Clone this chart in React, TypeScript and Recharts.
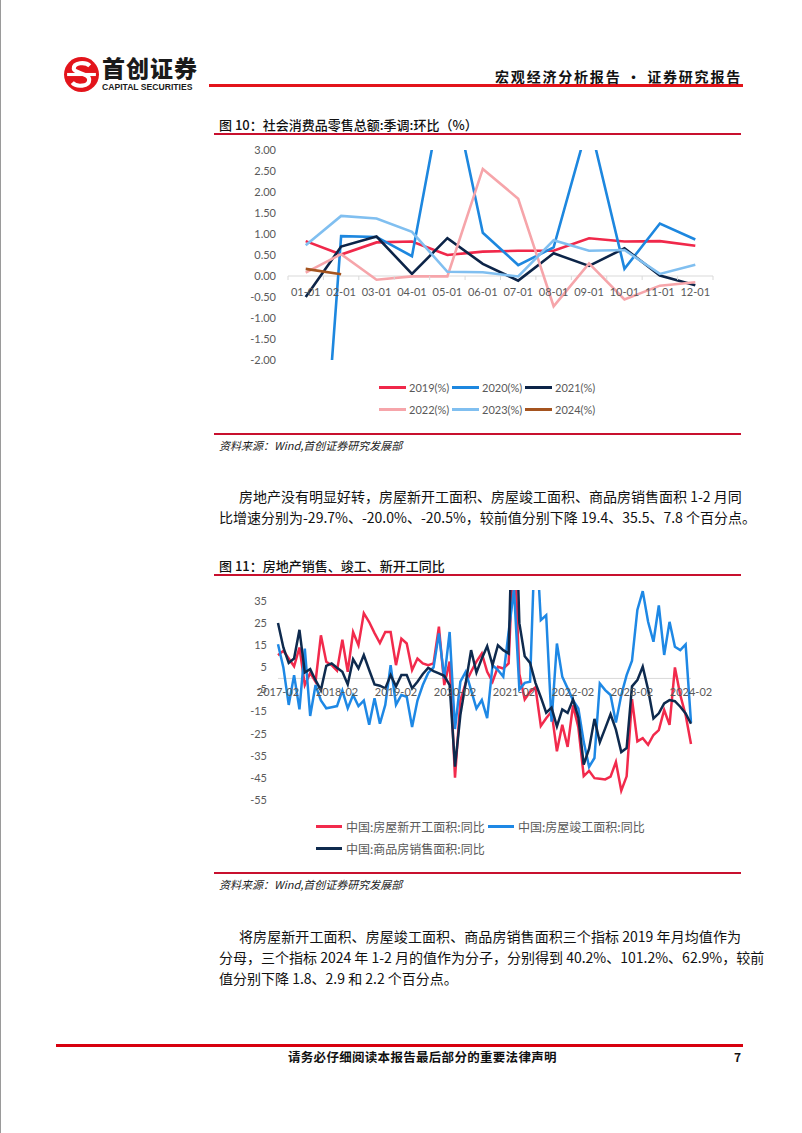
import { LineChart, Line, XAxis, YAxis, ReferenceLine, Legend } from 'recharts';

// 图10 社会消费品零售总额:季调:环比(%)
const retailMonths = ['01-01', '02-01', '03-01', '04-01', '05-01', '06-01', '07-01', '08-01', '09-01', '10-01', '11-01', '12-01'];
const retail2019 = [0.83, 0.51, 0.8, 0.82, 0.5, 0.58, 0.6, 0.6, 0.9, 0.82, 0.83, 0.72];
const retail2020 = [-10.5, 0.95, 0.93, 0.47, 5.0, 1.03, 0.26, 0.68, 3.7, 0.17, 1.25, 0.87];
const retail2021 = [-0.5, 0.7, 0.94, 0.05, 0.9, 0.29, -0.11, 0.54, 0.24, 0.66, 0.01, -0.22];
const retail2022 = [0.08, 0.52, -0.09, -0.01, -0.01, 2.55, 1.84, -0.72, 0.3, -0.56, -0.23, -0.15];
const retail2023 = [0.73, 1.43, 1.37, 1.05, 0.1, 0.09, -0.01, 0.85, 0.6, 0.62, 0.05, 0.27];
const retail2024 = [0.17, 0.04];
const retailTicks = [-2, -1.5, -1, -0.5, 0, 0.5, 1, 1.5, 2, 2.5, 3];

// 图11 房地产销售、竣工、新开工同比 (1月并入2月)
const propYears = ['2017', '2018', '2019', '2020', '2021', '2022', '2023', '2024'];
const propMonths = ['02', '03', '04', '05', '06', '07', '08', '09', '10', '11', '12'];
const newStartsYoY = [
  10.5, 12.5, 9, 5.5, 14, -3, 2.5, -1.5, 19.5, 7.5, 6,
  3.5, 17.5, 3, 21, 15, 29.5, 25.5, 20.5, 16, 21, 21,
  6, 18, 15.8, 3.8, 9, 6.8, 6, 6.8, 23.4, -3, 7.6,
  -44.9, -10, -2, 3, 7.6, 11.3, 3, -1.5, 5.3, 4.5, 6.8,
  64.3, 2, -9.5, -6, -4, -21.5, -18, -15, -33, -21, -31,
  -12.2, -22.2, -44.2, -41.8, -45.1, -45.4, -45.7, -44.4, -37.8, -50.8, -44.3,
  -9.4, -28.5, -27, -30, -25.6, -23.4, -14.3, -21, 5, -7.5, -16.6,
  -29.7,
];
const completedYoY = [
  15.5, 5, -12, 1.5, -14, 13.5, -17, -3, -10, -13.5, -13,
  -12.5, -5.5, -13.5, -7.5, -12.5, -10, -21, -9, -20.5, -12, 6,
  -11.9, -7.5, -8.3, -22, -10, -3, 2.5, 5, 20.4, 0, 21,
  -22.9, -1.5, 3, -5.3, -13.6, -9.8, -18, 6, 3.8, 0.8, 21,
  40.4, -5, -2, -1.5, 70, 26.4, 28.6, -19.6, 15.8, 0.8, -4.5,
  -9.8, -13.6, -28.7, -40, -36, -2.3, -5.3, -7.5, -20, -7.5, 1.5,
  8, 31, 39.5, 25.6, 16.6, 33, 10.6, 25.6, 14.3, 12.8, 15.4,
  -20,
];
const salesYoY = [
  25.1, 14, 7, 9, 22, 2.7, 4.2, -0.8, -5.3, 5.7, 6.8,
  4.8, 3, -2.7, 8.7, 4.5, 10.6, 3.8, -2.7, -3.3, -4.5, 1.5,
  -3.6, 1.5, 1.5, -4.5, -1.5, 2, 4.8, 3.3, 2.3, 1.2, -3,
  -39.9, -16.6, -2, 12.8, 2.7, 9, 14.6, 6, 15, 12.8, 11.3,
  104.9, 25, 10, 7, -2, -8.5, -15.5, -13.2, -21.7, -14, -15.6,
  -9.6, -17.7, -39, -31.8, -18.3, -28.9, -22.6, -16.2, -23.2, -33.3, -31.5,
  -3.6, -0.8, 5.3, -5, -18.1, -15.8, -11.3, -9.8, -10.3, -12.8, -15.8,
  -20.5,
];
const propTicks = [-55, -45, -35, -25, -15, -5, 5, 15, 25, 35];

const CJK = "'Noto Sans CJK SC', 'Noto Sans', sans-serif";
const LAT = "Lato, 'Noto Sans', sans-serif";
const AXIS_GREY = '#595959';

const retailSeries = [
  { key: 'y2019', name: '2019(%)', color: '#f0284a' },
  { key: 'y2020', name: '2020(%)', color: '#1d87df' },
  { key: 'y2021', name: '2021(%)', color: '#0c2448' },
  { key: 'y2022', name: '2022(%)', color: '#f6a5aa' },
  { key: 'y2023', name: '2023(%)', color: '#80bff0' },
  { key: 'y2024', name: '2024(%)', color: '#a5541f' },
];
const retailData = retailMonths.map((m, i) => ({
  month: m,
  y2019: retail2019[i],
  y2020: retail2020[i],
  y2021: retail2021[i],
  y2022: retail2022[i],
  y2023: retail2023[i],
  y2024: retail2024[i],
}));

const propSeries = [
  { key: 'newStarts', name: '中国:房屋新开工面积:同比', color: '#f22a4c' },
  { key: 'completed', name: '中国:房屋竣工面积:同比', color: '#1e88e5' },
  { key: 'sales', name: '中国:商品房销售面积:同比', color: '#0e2a4e' },
];
const propDates = propYears.flatMap((y) => propMonths.map((m) => `${y}-${m}`)).slice(0, newStartsYoY.length);
const propData = propDates.map((d, i) => ({
  date: d,
  newStarts: newStartsYoY[i],
  completed: completedYoY[i],
  sales: salesYoY[i],
}));

// chart 1 geometry
const R_W = 520;
const R_H = 300;
const R_XH = 1;
const R_MARGIN = { top: 10, right: 21, bottom: 79, left: 0 };
const R_YW = 74;
const R_PLOT_H = R_H - R_MARGIN.top - R_MARGIN.bottom - R_XH;
const R_PLOT_W = R_W - R_MARGIN.right - R_YW;
const R_BAND = R_PLOT_W / retailMonths.length;
const R_ZERO = R_MARGIN.top + (R_PLOT_H * 3) / 5;

// chart 2 geometry
const P_W = 520;
const P_H = 300;
const P_XH = 1;
const P_MARGIN = { top: 10, right: 43, bottom: 79, left: 0 };
const P_YW = 64;
const P_PLOT_H = P_H - P_MARGIN.top - P_MARGIN.bottom - P_XH;
const P_ZERO = P_MARGIN.top + (P_PLOT_H * 40) / 95;

const renderRetailTick = (props: any) => {
  const { x, payload, index } = props;
  const last = index === retailMonths.length - 1;
  return (
    <g key={`rt-${index}`}>
      <line x1={x - R_BAND / 2} x2={x - R_BAND / 2} y1={R_ZERO} y2={R_ZERO + 4} stroke="#d9d9d9" />
      {last && <line x1={x + R_BAND / 2} x2={x + R_BAND / 2} y1={R_ZERO} y2={R_ZERO + 4} stroke="#d9d9d9" />}
      <text x={x} y={R_ZERO + 20} textAnchor="middle" fill={AXIS_GREY} fontSize={11} fontFamily={LAT}>
        {payload.value}
      </text>
    </g>
  );
};

const renderPropTick = (props: any) => {
  const { x, payload, index } = props;
  return (
    <text key={`pt-${index}`} x={x} y={P_ZERO + 17.5} textAnchor="middle" fill={AXIS_GREY} fontSize={11} fontFamily={LAT}>
      {payload.value}
    </text>
  );
};

const RetailLegend = () => (
  <div style={{ paddingLeft: 165, width: 225, fontFamily: LAT, fontSize: 11, color: AXIS_GREY }}>
    {retailSeries.map((s) => (
      <span key={s.key} style={{ display: 'inline-flex', alignItems: 'center', width: 73, height: 22, verticalAlign: 'top' }}>
        <span style={{ display: 'inline-block', width: 27, height: 3, background: s.color, marginRight: 3 }} />
        {s.name}
      </span>
    ))}
  </div>
);

const PropLegend = () => (
  <div style={{ paddingLeft: 102, width: 350, fontFamily: CJK, fontSize: 12, color: AXIS_GREY }}>
    {propSeries.map((s) => (
      <span key={s.key} style={{ display: 'inline-flex', alignItems: 'center', width: 172, height: 22, verticalAlign: 'top' }}>
        <span style={{ display: 'inline-block', width: 26, height: 3, background: s.color, marginRight: 4 }} />
        {s.name}
      </span>
    ))}
  </div>
);

const abs = (left: number, top: number, extra: any = {}) => ({ position: 'absolute' as const, left, top, ...extra });

const Rule = ({ left, top, width, h = 1, color = '#c8102e' }: any) => (
  <div style={abs(left, top, { width, height: h, background: color })} />
);

const TextLine = ({ left, top, width, children, justify = true }: any) => (
  <div
    style={abs(left, top, {
      width,
      height: 21,
      lineHeight: '21px',
      fontFamily: CJK,
      fontSize: 14,
      color: '#111',
      whiteSpace: 'nowrap',
      textAlign: justify ? 'justify' : 'left',
      textAlignLast: justify ? 'justify' : 'left',
    })}
  >
    {children}
  </div>
);

export default function App() {
  return (
    <div style={{ position: 'absolute', left: 0, top: 0, width: 802, height: 1133, background: '#fff', overflow: 'hidden', borderLeft: '1px solid #9a9a9a', boxSizing: 'border-box' }}>
      {/* header */}
      <svg style={abs(62, 56)} width={37} height={37} viewBox="0 0 36 36">
        <circle cx={18} cy={18} r={17} fill="#e3141b" />
        <path d="M26 9.5 C22 5.5 10 6 10.5 12.5 C11 17 25.5 16.5 25.5 23 C25.5 30 13 30.5 9 26" stroke="#fff" strokeWidth={4} fill="none" />
        <rect x={4} y={16.5} width={28} height={3} fill="#fff" />
      </svg>
      <div style={abs(101, 54, { fontFamily: CJK, fontSize: 23, fontWeight: 900, color: '#1a1a1a', letterSpacing: 1, lineHeight: '26px' })}>首创证券</div>
      <div style={abs(101, 82, { fontFamily: "'Liberation Sans', Arial, sans-serif", fontSize: 8.6, fontWeight: 700, color: '#1a1a1a', lineHeight: '10px' })}>CAPITAL SECURITIES</div>
      <Rule left={208} top={84} width={534} h={3} color="#e3141b" />
      <div style={abs(400, 66, { width: 341, textAlign: 'right', fontFamily: CJK, fontSize: 14, fontWeight: 700, color: '#111', lineHeight: '20px', letterSpacing: 1.8 })}>
        宏观经济分析报告 · 证券研究报告
      </div>

      {/* figure 10 */}
      <div style={abs(218, 116, { fontFamily: CJK, fontSize: 13, fontWeight: 500, color: '#111', lineHeight: '18px' })}>图 10：社会消费品零售总额:季调:环比（%）</div>
      <Rule left={213} top={133} width={527} h={1.5} />
      <div style={abs(213, 140)}>
        <LineChart width={R_W} height={R_H} data={retailData} margin={R_MARGIN}>
          <XAxis
            dataKey="month"
            height={R_XH}
            axisLine={false}
            tickLine={false}
            interval={0}
            padding={{ left: R_BAND / 2, right: R_BAND / 2 }}
            tick={renderRetailTick}
          />
          <YAxis
            width={R_YW}
            domain={[-2, 3]}
            ticks={retailTicks}
            allowDataOverflow
            axisLine={false}
            tickLine={false}
            tickSize={6}
            tickMargin={6}
            tickFormatter={(v: number) => v.toFixed(2)}
            tick={{ fill: AXIS_GREY, fontSize: 11, fontFamily: LAT }}
          />
          <ReferenceLine y={0} stroke="#d9d9d9" strokeWidth={1} />
          {retailSeries.map((s) => (
            <Line
              key={s.key}
              type="linear"
              dataKey={s.key}
              name={s.name}
              stroke={s.color}
              strokeWidth={2.6}
              dot={false}
              activeDot={false}
              isAnimationActive={false}
            />
          ))}
          <Legend
            layout="horizontal"
            verticalAlign="middle"
            align="center"
            wrapperStyle={{ left: 0, top: 236, width: R_W }}
            content={<RetailLegend />}
          />
        </LineChart>
      </div>
      <Rule left={213} top={433} width={527} h={1.5} />
      <div style={abs(218, 437, { fontFamily: CJK, fontSize: 11, fontStyle: 'italic', color: '#222', lineHeight: '16px' })}>资料来源：Wind,首创证券研究发展部</div>

      <TextLine left={238} top={486} width={502}>房地产没有明显好转，房屋新开工面积、房屋竣工面积、商品房销售面积 1-2 月同</TextLine>
      <TextLine left={218} top={507} width={522}>比增速分别为-29.7%、-20.0%、-20.5%，较前值分别下降 19.4、35.5、7.8 个百分点。</TextLine>

      {/* figure 11 */}
      <div style={abs(218, 557, { fontFamily: CJK, fontSize: 13, fontWeight: 500, color: '#111', lineHeight: '18px' })}>图 11：房地产销售、竣工、新开工同比</div>
      <Rule left={213} top={574} width={527} h={1.5} />
      <div style={abs(213, 580)}>
        <LineChart width={P_W} height={P_H} data={propData} margin={P_MARGIN}>
          <XAxis dataKey="date" height={P_XH} axisLine={false} tickLine={false} interval={10} tick={renderPropTick} />
          <YAxis
            width={P_YW}
            domain={[-55, 40]}
            ticks={propTicks}
            allowDataOverflow
            axisLine={false}
            tickLine={false}
            tickSize={6}
            tickMargin={5}
            tick={{ fill: AXIS_GREY, fontSize: 11, fontFamily: LAT }}
          />
          <ReferenceLine y={0} stroke="#d9d9d9" strokeWidth={1} />
          {propSeries.map((s) => (
            <Line
              key={s.key}
              type="linear"
              dataKey={s.key}
              name={s.name}
              stroke={s.color}
              strokeWidth={2.5}
              dot={false}
              activeDot={false}
              isAnimationActive={false}
            />
          ))}
          <Legend
            layout="horizontal"
            verticalAlign="middle"
            align="center"
            wrapperStyle={{ left: 0, top: 235, width: P_W }}
            content={<PropLegend />}
          />
        </LineChart>
      </div>
      <Rule left={213} top={872} width={527} h={1.5} />
      <div style={abs(218, 876, { fontFamily: CJK, fontSize: 11, fontStyle: 'italic', color: '#222', lineHeight: '16px' })}>资料来源：Wind,首创证券研究发展部</div>

      <TextLine left={238} top={926} width={502}>将房屋新开工面积、房屋竣工面积、商品房销售面积三个指标 2019 年月均值作为</TextLine>
      <TextLine left={218} top={947} width={522}>分母，三个指标 2024 年 1-2 月的值作为分子，分别得到 40.2%、101.2%、62.9%，较前</TextLine>
      <TextLine left={218} top={968} width={300} justify={false}>值分别下降 1.8、2.9 和 2.2 个百分点。</TextLine>

      {/* footer */}
      <Rule left={55} top={1044} width={687} h={2.5} color="#d7000f" />
      <div style={abs(287, 1049, { fontFamily: CJK, fontSize: 12.5, fontWeight: 700, color: '#111', lineHeight: '16px', letterSpacing: 0.3 })}>请务必仔细阅读本报告最后部分的重要法律声明</div>
      <div style={abs(733, 1049, { fontFamily: CJK, fontSize: 12, fontWeight: 700, color: '#111', lineHeight: '16px' })}>7</div>
    </div>
  );
}
